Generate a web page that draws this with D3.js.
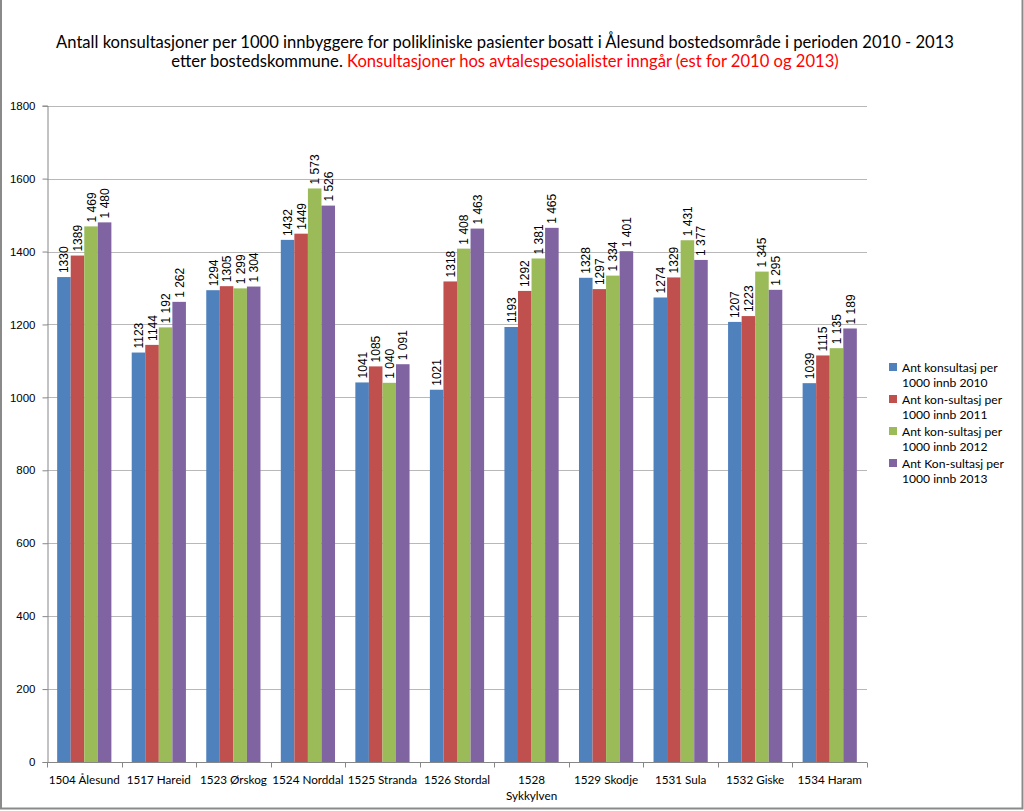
<!DOCTYPE html>
<html><head><meta charset="utf-8">
<script src="https://cdn.jsdelivr.net/npm/d3@7"></script>
<style>body{margin:0;background:#fff}svg{display:block}</style>
</head><body>
<svg id="c" width="1024" height="811"></svg>
<script>
const categories = ["1504 Ålesund","1517 Hareid","1523 Ørskog","1524 Norddal","1525 Stranda","1526 Stordal","1528 Sykkylven","1529 Skodje","1531 Sula","1532 Giske","1534 Haram"];
const v2010 = [1330,1123,1294,1432,1041,1021,1193,1328,1274,1207,1039];
const v2011 = [1389,1144,1305,1449,1085,1318,1292,1297,1329,1223,1115];
const v2012 = [1469,1192,1299,1573,1040,1408,1381,1334,1431,1345,1135];
const v2013 = [1480,1262,1304,1526,1091,1463,1465,1401,1377,1295,1189];
const seriesNames = [["Ant konsultasj per","1000 innb 2010"],["Ant kon-sultasj per","1000 innb 2011"],["Ant kon-sultasj per","1000 innb 2012"],["Ant Kon-sultasj per","1000 innb 2013"]];
const seriesColors = ["#4F81BD","#C0504D","#9BBB59","#8064A2"];
const yTicks = [0,200,400,600,800,1000,1200,1400,1600,1800];
const series = [v2010,v2011,v2012,v2013];
const spaced = [false,false,true,true];

const svg = d3.select("#c");
const m = {left:47,right:867,top:105.7,bottom:762};
const x = d3.scaleBand().domain(categories).range([m.left,m.right]).paddingInner(0).paddingOuter(0);
const y = d3.scaleLinear().domain([0,1800]).range([m.bottom,m.top]);

// frame
svg.append("rect").attr("x",1).attr("y",-5).attr("width",1021.5).attr("height",813.5)
  .attr("fill","none").attr("stroke","#8a8a8a").attr("stroke-width",2);

// title
const t1 = svg.append("text").attr("text-anchor","middle").attr("font-family","Lato, 'Open Sans', sans-serif").attr("font-size",16.6)
  .attr("x",505).attr("y",48).text("Antall konsultasjoner per 1000 innbyggere for polikliniske pasienter bosatt i Ålesund bostedsområde  i perioden 2010 - 2013");
const t = svg.append("text").attr("text-anchor","middle").attr("font-family","Lato, 'Open Sans', sans-serif").attr("font-size",16.6);
t.append("tspan").attr("x",505).attr("y",67).text("etter bostedskommune.  ");
t.append("tspan").attr("fill","#FF0000").text("Konsultasjoner hos avtalespesoialister inngår (est for 2010 og 2013)");

// grid
svg.append("g").selectAll("line").data(yTicks.filter(d=>d>0)).join("line")
  .attr("x1",m.left).attr("x2",m.right).attr("y1",d=>Math.round(y(d))+0.5).attr("y2",d=>Math.round(y(d))+0.5)
  .attr("stroke","#b8b8b8").attr("stroke-width",1);

// y axis
const ya = svg.append("g").attr("transform",`translate(${m.left+0.5},0)`)
  .call(d3.axisLeft(y).tickValues(yTicks).tickSize(5).tickPadding(7).tickFormat(d3.format("d")));
ya.select(".domain").attr("stroke","#868686");
ya.selectAll(".tick line").attr("stroke","#868686");
ya.selectAll("text").attr("font-family","'Liberation Sans', Arial, sans-serif").attr("font-size",11.5).attr("fill","#000");

// bars
const bw = x.bandwidth()/5.5;
const g = svg.append("g");
categories.forEach((c,i)=>{
  series.forEach((s,j)=>{
    const bx = x(c) + bw*0.75 + j*bw;
    g.append("rect").attr("x",bx).attr("y",y(s[i])).attr("width",bw).attr("height",y(0)-y(s[i])).attr("fill",seriesColors[j]);
    const lbl = spaced[j] ? d3.format(",")(s[i]).replace(",", " ") : String(s[i]);
    g.append("text").attr("transform",`translate(${bx+bw/2+4.5},${y(s[i])-4}) rotate(-90)`)
      .attr("font-family","'Liberation Sans', Arial, sans-serif").attr("font-size",12).attr("fill","#000")
      .text(lbl);
  });
});

// x axis
const xa = svg.append("g").attr("transform",`translate(0,${m.bottom+0.5})`);
xa.append("line").attr("x1",m.left).attr("x2",m.right).attr("stroke","#868686");
xa.selectAll("line.tk").data(d3.range(categories.length+1)).join("line").attr("class","tk")
  .attr("x1",d=>Math.round(m.left+d*x.step())+0.5).attr("x2",d=>Math.round(m.left+d*x.step())+0.5)
  .attr("y1",0).attr("y2",5).attr("stroke","#868686");
categories.forEach(c=>{
  const cx = x(c)+x.bandwidth()/2;
  const txt = xa.append("text").attr("text-anchor","middle").attr("font-family","Lato, 'Open Sans', sans-serif").attr("font-size",11.7).attr("fill","#000");
  if (c === "1528 Sykkylven") {
    txt.append("tspan").attr("x",cx).attr("y",21).text("1528");
    txt.append("tspan").attr("x",cx).attr("y",37).text("Sykkylven");
  } else {
    txt.attr("x",cx).attr("y",21).text(c);
  }
});

// legend
const lg = svg.append("g");
seriesNames.forEach((n,j)=>{
  const ly = 367 + j*32;
  lg.append("rect").attr("x",889).attr("y",ly-4).attr("width",8).attr("height",8).attr("fill",seriesColors[j]);
  const tx = lg.append("text").attr("font-family","Lato, 'Open Sans', sans-serif").attr("font-size",12.1).attr("fill","#000");
  tx.append("tspan").attr("x",902).attr("y",ly+4.5).text(n[0]);
  tx.append("tspan").attr("x",902).attr("y",ly+20).text(n[1]);
});
</script>
</body></html>
